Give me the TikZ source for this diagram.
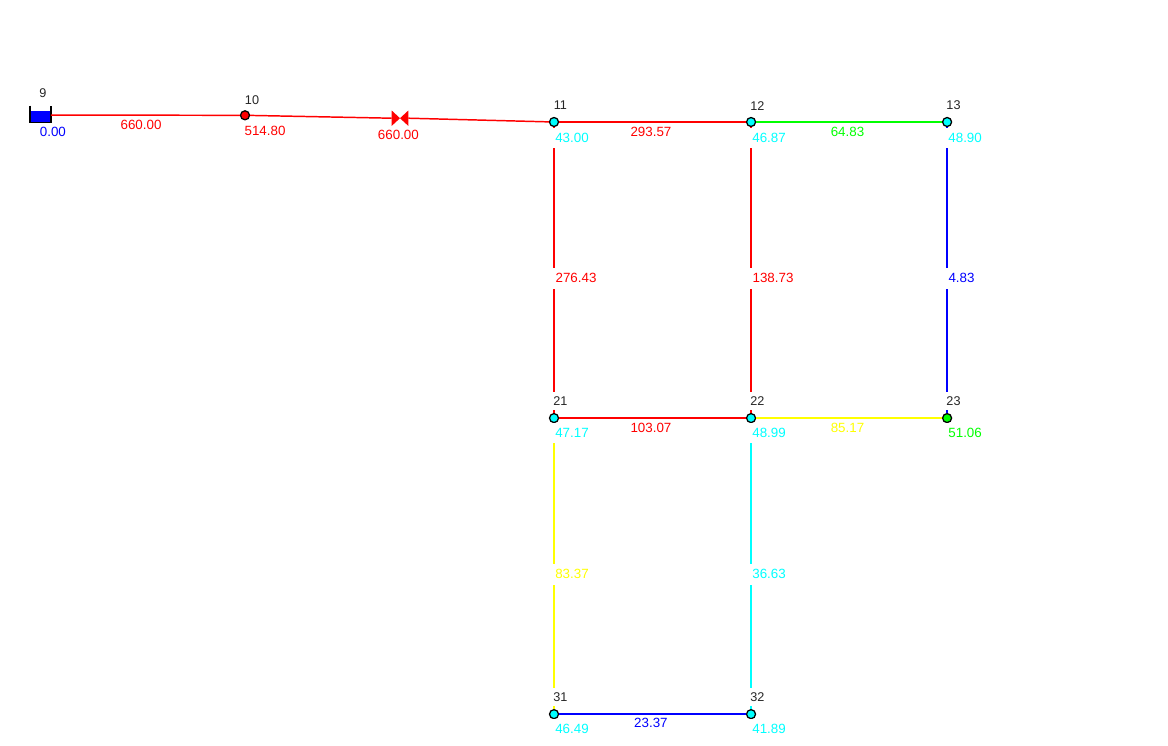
\documentclass[tikz,border=0pt]{standalone}
\usepackage{fontspec}
\setmainfont{Liberation Sans}
\usetikzlibrary{shapes,positioning}
\definecolor{wred}{RGB}{255,0,0}
\definecolor{wgreen}{RGB}{0,255,0}
\definecolor{wblue}{RGB}{0,0,255}
\definecolor{wyellow}{RGB}{255,255,0}
\definecolor{wcyan}{RGB}{0,255,255}
\tikzstyle{junc} = [circle, draw=black, line width=0.9pt, fill=wcyan, inner sep=0pt, minimum size=0.225cm]
\tikzstyle{pipe} = [line width=1.05pt]
\tikzstyle{idlab} = [fill=white, inner xsep=0.1cm, inner ysep=0pt, minimum height=0.46cm, text=black!85, font=\fontsize{9pt}{10pt}\selectfont]
\tikzstyle{vallab} = [fill=white, inner xsep=0.1cm, inner ysep=0pt, minimum height=0.5cm, font=\fontsize{9.5pt}{11pt}\selectfont]
\tikzstyle{hlab} = [inner sep=0pt, xshift=-0.04cm, yshift=-0.25cm, font=\fontsize{9.5pt}{11pt}\selectfont]
\tikzstyle{vlab} = [fill=white, inner xsep=0.1cm, inner ysep=0pt, minimum height=0.525cm, xshift=0.55cm, yshift=-0.2cm, font=\fontsize{9.5pt}{11pt}\selectfont]

\begin{document}
\begin{tikzpicture}[x=0.025cm, y=-0.025cm, on grid]
    \useasboundingbox (0,0) rectangle (1168,745);
    % tank, pump side
    \node [fill=wblue, inner sep=0pt, minimum width=0.51cm, minimum height=0.275cm] (n9) at (40.5,116.5) {};
    \draw [line width=0.9pt] ([yshift=0.125cm]n9.north west) -- (n9.south west) -- (n9.south east) -- ([yshift=0.125cm]n9.north east);
    \node [junc, fill=wred] (n10) at (245,115.3) {};
    \node [inner sep=0pt, minimum width=0.4cm, minimum height=0.37cm] (vlv) at (400,118.2) {};
    \fill [wred] (vlv.north west) -- (vlv.south east) -- (vlv.north east) -- (vlv.south west) -- cycle;
    % junctions
    \node [junc] (n11) at (554,122) {};
    \node [junc, right=4.925cm of n11] (n12) {};
    \node [junc, right=4.9cm of n12] (n13) {};
    \node [junc, below=7.4cm of n11] (n21) {};
    \node [junc, right=4.925cm of n21] (n22) {};
    \node [junc, fill=wgreen, right=4.9cm of n22] (n23) {};
    \node [junc, below=7.4cm of n21] (n31) {};
    \node [junc, right=4.925cm of n31] (n32) {};
    % pipes
    \draw [pipe, wred] ([yshift=0.035cm]n9.east) -- node [hlab, midway, xshift=-0.07cm] (p1) {660.00} (n10);
    \draw [pipe, wred] (n10) -- (vlv.west);
    \draw [pipe, wred] (vlv.east) -- (n11);
    \node [hlab, text=wred, below=0.42cm of vlv, yshift=0.25cm] (p2) {660.00};
    \draw [pipe, wred] (n11) -- node [hlab, midway] (p3) {293.57} (n12);
    \draw [pipe, wgreen] (n12) -- node [hlab, midway] (p4) {64.83} (n13);
    \draw [pipe, wred] (n21) -- node [hlab, midway] (p5) {103.07} (n22);
    \draw [pipe, wyellow] (n22) -- node [hlab, midway] (p6) {85.17} (n23);
    \draw [pipe, wblue] (n31) -- node [hlab, midway, yshift=0.04cm] (p7) {23.37} (n32);
    \draw [pipe, wred] (n11) -- node [vlab, midway, text=wred] (p8) {276.43} (n21);
    \draw [pipe, wred] (n12) -- node [vlab, midway, text=wred] (p9) {138.73} (n22);
    \draw [pipe, wblue] (n13) -- node [vlab, midway, text=wblue, xshift=-0.19cm] (p10) {4.83} (n23);
    \draw [pipe, wyellow] (n21) -- node [vlab, midway, text=wyellow, xshift=-0.1cm] (p11) {83.37} (n31);
    \draw [pipe, wcyan] (n22) -- node [vlab, midway, text=wcyan, xshift=-0.1cm] (p12) {36.63} (n32);
    % node ids
    \node [idlab, above right=0.59cm and 0.06cm of n9] (id9) {9};
    \node [idlab, above right=0.39cm and 0.175cm of n10] (id10) {10};
    \node [idlab, above right=0.41cm and 0.16cm of n11] (id11) {11};
    \node [idlab, above right=0.41cm and 0.16cm of n12] (id12) {12};
    \node [idlab, above right=0.41cm and 0.16cm of n13] (id13) {13};
    \node [idlab, above right=0.42cm and 0.16cm of n21] (id21) {21};
    \node [idlab, above right=0.42cm and 0.16cm of n22] (id22) {22};
    \node [idlab, above right=0.42cm and 0.16cm of n23] (id23) {23};
    \node [idlab, above right=0.43cm and 0.16cm of n31] (id31) {31};
    \node [idlab, above right=0.43cm and 0.16cm of n32] (id32) {32};
    % node values
    \node [vallab, fill=none, text=wblue, below right=0.39cm and 0.31cm of n9] (v9) {0.00};
    \node [vallab, text=wred, below right=0.39cm and 0.5cm of n10] (v10) {514.80};
    \node [vallab, text=wcyan, below right=0.39cm and 0.45cm of n11] (v11) {43.00};
    \node [vallab, text=wcyan, below right=0.39cm and 0.45cm of n12] (v12) {46.87};
    \node [vallab, text=wcyan, below right=0.39cm and 0.45cm of n13] (v13) {48.90};
    \node [vallab, text=wcyan, below right=0.38cm and 0.45cm of n21] (v21) {47.17};
    \node [vallab, text=wcyan, below right=0.38cm and 0.45cm of n22] (v22) {48.99};
    \node [vallab, text=wgreen, below right=0.38cm and 0.45cm of n23] (v23) {51.06};
    \node [vallab, text=wcyan, below right=0.36cm and 0.45cm of n31] (v31) {46.49};
    \node [vallab, text=wcyan, below right=0.36cm and 0.45cm of n32] (v32) {41.89};
\end{tikzpicture}
\end{document}
